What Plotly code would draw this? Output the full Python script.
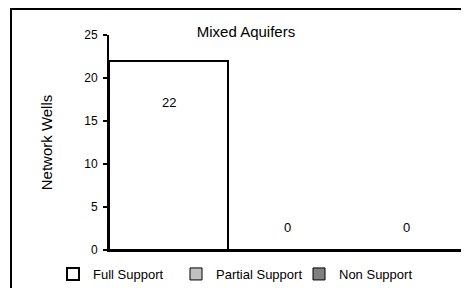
import plotly.graph_objects as go

categories = ["Full Support", "Partial Support", "Non Support"]
values = [22, 0, 0]
colors = ["#ffffff", "#c0c0c0", "#808080"]
y_ticks = [0, 5, 10, 15, 20, 25]
title_text = "Mixed Aquifers"
y_title = "Network Wells"

FONT = "Liberation Sans, Arial, sans-serif"

# page is rendered with an 8px body margin, so figure coords = page coords - 8
W, H = 461, 280
L, R, T, B = 101, 3, 27, 38
PW, PH = W - L - R, H - T - B

fig = go.Figure()
for i, (cat, v, c) in enumerate(zip(categories, values, colors)):
    fig.add_trace(go.Bar(
        x=[i], y=[v], width=1, name=cat,
        marker=dict(color=c, line=dict(color="black", width=2 if v > 0 else 1)),
        showlegend=True,
    ))
    fig.add_annotation(x=i, y=v, text=str(v), showarrow=False,
                       yshift=-42 if v > 5 else 23,
                       font=dict(family=FONT, size=13, color="black"))

fig.add_shape(type="rect", xref="paper", yref="paper",
              x0=(3 - L) / PW, x1=1.2, y0=-0.5, y1=(T + PH - 1) / PH,
              line=dict(color="black", width=2), layer="below")

fig.update_layout(
    width=W, height=H,
    margin=dict(l=L, r=R, t=T, b=B, autoexpand=False),
    paper_bgcolor="white", plot_bgcolor="white",
    bargap=0, barmode="overlay",
    title=dict(text=title_text, x=(238 - L) / PW, xref="paper", xanchor="center",
               y=1 - 24 / H, yanchor="middle",
               font=dict(family=FONT, size=15, color="black")),
    font=dict(family=FONT, size=12, color="black"),
    legend=dict(orientation="h", x=(45 - L) / PW, xanchor="left",
                y=-(266 - (T + PH)) / PH, yanchor="middle",
                entrywidth=78, entrywidthmode="pixels",
                itemwidth=30, font=dict(family=FONT, size=13),
                bgcolor="rgba(0,0,0,0)", traceorder="normal"),
    showlegend=True,
)
fig.update_xaxes(range=[-0.5, 2.5], showticklabels=False, ticks="",
                 showline=True, linecolor="black", linewidth=2,
                 showgrid=False, zeroline=False, fixedrange=True, automargin=False)
fig.update_yaxes(range=[0, 25], tickvals=y_ticks, ticks="outside", ticklen=4,
                 tickcolor="black", tickwidth=1.5, ticklabelstandoff=3,
                 showline=True, linecolor="black", linewidth=2,
                 showgrid=False, zeroline=False, automargin=False,
                 title=dict(text=y_title, standoff=28,
                            font=dict(family=FONT, size=15, color="black")),
                 tickfont=dict(family=FONT, size=12, color="black"))

fig.write_html("out.html")
